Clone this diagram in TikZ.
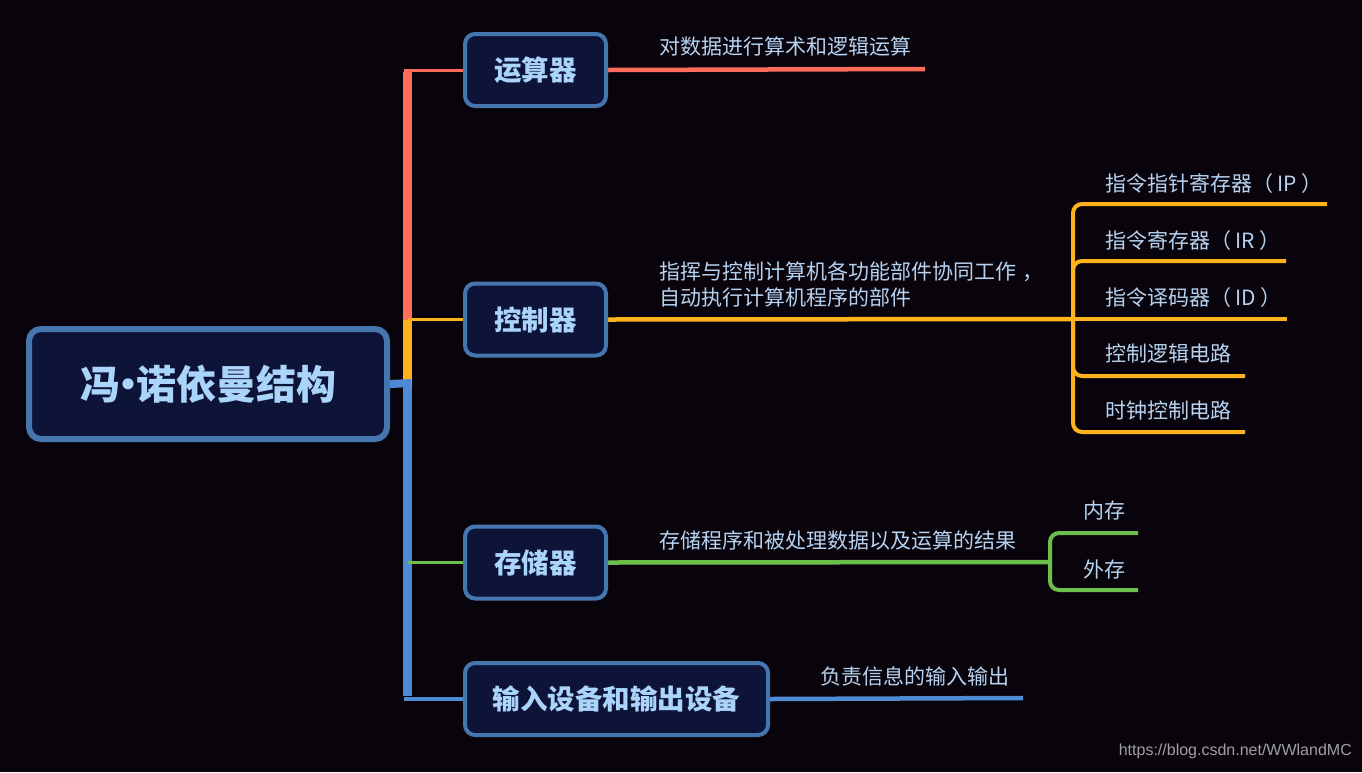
\documentclass[tikz,border=0pt]{standalone}
\usepackage{fontspec}
\setmainfont{Liberation Sans}
\newfontfamily\cjk{Noto Sans CJK SC}
\usetikzlibrary{backgrounds}
\definecolor{bgc}{HTML}{09040C}
\definecolor{boxfill}{HTML}{0E1338}
\definecolor{boxline}{HTML}{4676B0}
\definecolor{titlec}{HTML}{AAD4FA}
\definecolor{labc}{HTML}{B6D2F0}
\definecolor{redc}{HTML}{FF6C5A}
\definecolor{orc}{HTML}{FFB21C}
\definecolor{grc}{HTML}{6CBF4C}
\definecolor{blc}{HTML}{4F8AD4}
\definecolor{wmc}{HTML}{A0A0A0}
\newcommand{\pp}[1]{（\kern0.2em#1\kern0.2em）}
\begin{document}
\begin{tikzpicture}[x=1pt,y=-1pt,
  rootbox/.style={draw=boxline, line width=6pt, fill=boxfill, rounded corners=12pt,
    minimum width=358pt, minimum height=110pt, inner sep=0pt, text=titlec,
    font=\cjk\bfseries\fontsize{40}{48}\selectfont},
  topicbox/.style={draw=boxline, line width=4pt, fill=boxfill, rounded corners=10pt,
    minimum width=141pt, minimum height=72pt, inner sep=0pt, text=titlec,
    font=\cjk\bfseries\fontsize{27.5}{32}\selectfont},
  lab/.style={anchor=west, inner sep=0pt, text=labc, align=left,
    font=\cjk\fontsize{21}{26}\selectfont},
  thin/.style={line width=3pt},
  branch/.style={line width=4.5pt},
  sub/.style={line width=4pt, rounded corners=9pt},
  trunk/.style={line width=8.5pt}
]
\useasboundingbox (0,0) rectangle (1362,772);

% nodes
\node[rootbox] (root) at (208,384) {冯\kern-0.3em·\kern-0.3em诺依曼结构};
\node[topicbox] (alu) at (535.5,70) {运算器};
\node[topicbox] (ctrl) at (535.5,319.5) {控制器};
\node[topicbox] (mem) at (535.5,562.5) {存储器};
\node[topicbox, minimum width=303pt] (io) at (616.5,699) {输入设备和输出设备};

\coordinate (tx) at (407.5,383);

% labels
\node[lab] (alulab) at (659,47) {对数据进行算术和逻辑运算};
\node[lab] (ctrllab) at (659,284) {指挥与控制计算机各功能部件协同工作\kern0.3em，\\自动执行计算机程序的部件};
\node[lab] (memlab) at (659,541) {存储程序和被处理数据以及运算的结果};
\node[lab] (iolab) at (820,676) {负责信息的输入输出};

\node[lab] (ip) at (1105,184) {指令指针寄存器\pp{IP}};
\node[lab] (ir) at (1105,241) {指令寄存器\pp{IR}};
\node[lab] (id) at (1105,298) {指令译码器\pp{ID}};
\node[lab] (cl) at (1105,354) {控制逻辑电路};
\node[lab] (ck) at (1105,411) {时钟控制电路};
\node[lab] (nc) at (1083,511) {内存};
\node[lab] (wc) at (1083,569) {外存};

\node[anchor=south east, inner sep=0pt, text=wmc, font=\fontsize{16}{18}\selectfont] (wm) at (1352,759) {https://blog.csdn.net/WWlandMC};

% end coordinates
\coordinate (aluend) at (925,69);
\coordinate (cb) at (1073,319);
\coordinate (ipend) at (1327,204);
\coordinate (irend) at (1286,261);
\coordinate (idend) at (1287,319);
\coordinate (clend) at (1245,376);
\coordinate (ckend) at (1245,432);
\coordinate (gb) at (1050,562);
\coordinate (ncend) at (1138,533);
\coordinate (wcend) at (1138,590);
\coordinate (ioend) at (1023,698);

\begin{pgfonlayer}{background}
\fill[bgc] (0,0) rectangle (1362,772);
% trunk
\draw[trunk, redc] ([yshift=-2pt]alu.west -| tx) -- (ctrl.west -| tx);
\draw[trunk, orc] (ctrl.west -| tx) -- ([yshift=-4pt]tx);
\draw[trunk, blc] ([yshift=-4pt]tx) -- ([yshift=3pt]io.west -| tx);
\draw[line width=8pt, blc] (root.east) -- ([xshift=4pt]tx);
% topic connectors
\draw[thin, redc] ([xshift=-4pt]alu.west -| tx) -- (alu.west);
\draw[thin, orc] (ctrl.west -| tx) -- (ctrl.west);
\draw[thin, grc] (mem.west -| tx) -- (mem.west);
\draw[line width=4pt, blc] ([xshift=-4pt]io.west -| tx) -- (io.west);
% right side
\draw[branch, redc] (alu.east) -- (aluend);
\draw[branch, orc] (ctrl.east) -- (cb);
\draw[sub, orc] (cb) -- (cb |- ipend) -- (ipend);
\draw[sub, orc] (cb) -- (cb |- irend) -- (irend);
\draw[sub, orc] (cb) -- (idend);
\draw[sub, orc] (cb) -- (cb |- clend) -- (clend);
\draw[sub, orc] (cb) -- (cb |- ckend) -- (ckend);
\draw[branch, grc] (mem.east) -- (gb);
\draw[sub, grc] (gb) -- (gb |- ncend) -- (ncend);
\draw[sub, grc] (gb) -- (gb |- wcend) -- (wcend);
\draw[branch, blc] (io.east) -- (ioend);
\end{pgfonlayer}
\end{tikzpicture}
\end{document}
